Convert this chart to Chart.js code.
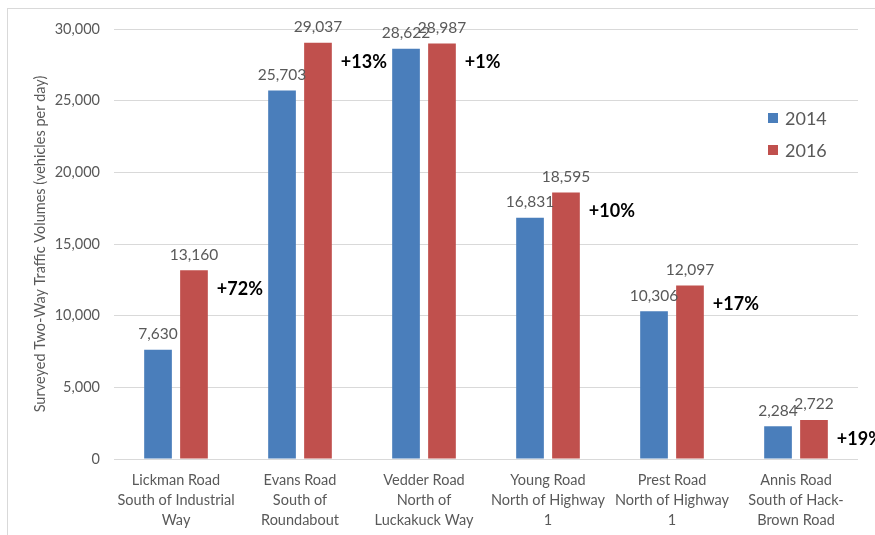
<!DOCTYPE html>
<html>
<head>
<meta charset="utf-8">
<script src="https://cdn.jsdelivr.net/npm/chart.js@4"></script>
<style>
  html, body { margin: 0; padding: 0; background: #fff; }
  #wrap { position: relative; width: 875px; height: 535px; }
  #frame { position: absolute; left: 7px; top: 8px; width: 880px; height: 540px;
           border-left: 1px solid #d9d9d9; border-top: 1px solid #d9d9d9; }
  canvas { position: absolute; left: 0; top: 0; }
</style>
</head>
<body>
<div id="wrap">
  <div id="frame"></div>
  <canvas id="trafficChart" width="875" height="535"></canvas>
</div>
<script>
// Surveyed two-way traffic volumes, 2014 vs 2016
const roads = [
    ['Lickman Road', 'South of Industrial', 'Way'],
    ['Evans Road', 'South of', 'Roundabout'],
    ['Vedder Road', 'North of', 'Luckakuck Way'],
    ['Young Road', 'North of Highway', '1'],
    ['Prest Road', 'North of Highway', '1'],
    ['Annis Road', 'South of Hack-', 'Brown Road']
];
const volumes2014 = [7630, 25703, 28622, 16831, 10306, 2284];
const volumes2016 = [13160, 29037, 28987, 18595, 12097, 2722];
const yTicks = [0, 5000, 10000, 15000, 20000, 25000, 30000];

const FONT = 'Lato, "Open Sans", sans-serif';
const GREY = '#595959';

// value labels above bars, growth % beside the 2016 bar, and the legend
const annotate = {
    id: 'annotate',
    afterDatasetsDraw(chart) {
        const { ctx } = chart;
        ctx.save();
        ctx.textAlign = 'center';
        ctx.textBaseline = 'bottom';
        ctx.fillStyle = GREY;
        ctx.font = '15.5px ' + FONT;
        chart.data.datasets.forEach((ds, i) => {
            chart.getDatasetMeta(i).data.forEach((bar, j) => {
                ctx.fillText(ds.data[j].toLocaleString('en-US'), bar.x, bar.y - 8);
            });
        });

        const red = chart.getDatasetMeta(1).data;
        ctx.textAlign = 'left';
        ctx.textBaseline = 'middle';
        ctx.fillStyle = '#000';
        ctx.font = 'bold 18px ' + FONT;
        red.forEach((bar, j) => {
            const pct = Math.round((volumes2016[j] - volumes2014[j]) / volumes2014[j] * 100);
            ctx.fillText('+' + pct + '%', bar.x + bar.width / 2 + 9, bar.y + 19);
        });

        // legend
        ctx.font = '18px ' + FONT;
        chart.data.datasets.forEach((ds, i) => {
            const y = 118 + i * 32;
            ctx.fillStyle = ds.backgroundColor;
            ctx.fillRect(768, y - 5, 10, 10);
            ctx.fillStyle = GREY;
            ctx.fillText(ds.label, 785, y + 1);
        });
        ctx.restore();
    }
};

new Chart(document.getElementById('trafficChart'), {
    type: 'bar',
    data: {
        labels: roads,
        datasets: [
            { label: '2014', data: volumes2014, backgroundColor: '#4a7ebb' },
            { label: '2016', data: volumes2016, backgroundColor: '#c0504d' }
        ]
    },
    options: {
        responsive: false,
        animation: false,
        layout: { padding: { top: 29, right: 17, bottom: 0, left: 32 } },
        datasets: { bar: { categoryPercentage: 0.58, barPercentage: 0.77 } },
        scales: {
            x: {
                grid: { display: false },
                border: { display: false },
                ticks: {
                    color: GREY,
                    font: { family: FONT, size: 14.5, lineHeight: 1.38 },
                    padding: 3,
                    maxRotation: 0,
                    autoSkip: false
                },
                afterFit(scale) { scale.height = 76; }
            },
            y: {
                min: 0,
                max: 30000,
                afterBuildTicks(scale) { scale.ticks = yTicks.map(v => ({ value: v })); },
                grid: { color: '#d9d9d9', drawTicks: false },
                border: { display: false },
                ticks: {
                    color: GREY,
                    font: { family: FONT, size: 14.5 },
                    padding: 14,
                    callback: v => v.toLocaleString('en-US')
                },
                title: {
                    display: true,
                    text: 'Surveyed Two-Way Traffic Volumes (vehicles per day)',
                    color: GREY,
                    font: { family: FONT, size: 14.5 },
                    padding: { top: 0, bottom: 4 }
                },
                afterFit(scale) { scale.width = 82; }
            }
        },
        plugins: {
            legend: { display: false },
            tooltip: { enabled: false }
        }
    },
    plugins: [annotate]
});
</script>
</body>
</html>
